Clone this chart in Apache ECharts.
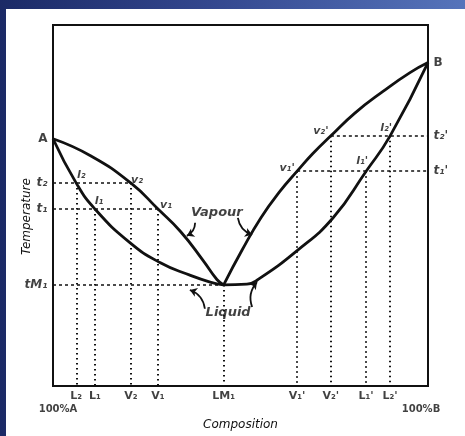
<!DOCTYPE html>
<html>
<head>
<meta charset="utf-8">
<script src="https://cdn.jsdelivr.net/npm/echarts@6/dist/echarts.min.js"></script>
<style>
  html, body { margin: 0; padding: 0; }
  #frame { position: relative; width: 465px; height: 436px; overflow: hidden;
    background: linear-gradient(90deg, #1b2a66 0%, #33478e 45%, #5674bb 100%); }
  #paper { position: absolute; left: 6px; top: 9px; right: 0; bottom: 0; background: #fff; }
  #chart { position: absolute; left: 0; top: 0; width: 465px; height: 436px; }
</style>
</head>
<body>
<div id="frame"><div id="paper"></div><div id="chart"></div></div>
<script>
// curves [composition, temperature]
const vapourLeft = [[0, 68.5], [10, 63.8], [20.8, 56.2], [28, 49], [34, 42.8], [40, 34.8], [43.7, 29.5], [45.5, 28]];
const liquidLeft = [[0, 68.5], [6.2, 56.2], [11.2, 49], [20.5, 39.7], [28.5, 34.2], [36.5, 30.7], [41.9, 28.8], [45.5, 28]];
const vapourRight = [[45.5, 28], [50.5, 37.8], [55.5, 46.7], [60.5, 53.9], [65.1, 59.5], [69.3, 64.4], [74.1, 69.3], [80.5, 75.6], [88, 81.6], [95.2, 86.8], [100, 89.6]];
const liquidRight = [[45.5, 28], [51.7, 28.2], [54.4, 29.3], [65.1, 37.5], [74.7, 46.6], [83.5, 59.5], [89.9, 69.3], [100, 89.6]];

// compositions read on the bottom
const compLabels = ["L₂", "L₁", "V₂", "V₁", "LM₁", "V₁'", "V₂'", "L₁'", "L₂'"];
const compX = [6.2, 11.2, 20.8, 28, 45.5, 65.1, 74.1, 83.5, 89.9];
const compTemp = [56.2, 49, 56.2, 49, 28, 59.5, 69.3, 59.5, 69.3];

// temperatures
const tLeftLabels = ["t₂", "t₁", "tM₁"];
const tLeft = [56.2, 49, 28];
const tLeftEnd = [20.8, 28, 45.5];
const tRightLabels = ["t₂'", "t₁'"];
const tRight = [69.3, 59.5];
const tRightStart = [74.1, 65.1];

// points on the curves
const pointLabels = ["l₂", "l₁", "v₂", "v₁", "v₁'", "v₂'", "l₁'", "l₂'"];
const pointX = [6.2, 11.2, 20.8, 28, 65.1, 74.1, 83.5, 89.9];
const pointT = [56.2, 49, 56.2, 49, 59.5, 69.3, 59.5, 69.3];
const pointOffset = [[5, -8], [4, -8], [6, -3], [8, -4], [-10, -3], [-10, -5], [-4, -10], [-4, -8]];

const ends = [["A", 0, 68.5], ["B", 100, 89.6]];
const notes = [["Vapour", 43.7, 47.9], ["Liquid", 46.7, 20.3]];
const arrows = [
  [[37.9, 45.2], [35.7, 41.6]],
  [[49.3, 46.6], [53.1, 41.9]],
  [[40.5, 21.4], [36.5, 26.6]],
  [[53.1, 21.9], [54.4, 28.8]],
];
const arrowBend = [0.3, -0.3, -0.3, 0.3];

const ink = "#111";
const chart = echarts.init(document.getElementById("chart"));

const curve = (data) => ({
  type: "line",
  data: data,
  smooth: 0.5,
  showSymbol: false,
  silent: true,
  lineStyle: { color: ink, width: 2.8 },
  z: 5,
});

const textPoint = (data, label) => ({
  type: "scatter",
  data: data,
  symbolSize: 1,
  itemStyle: { color: "transparent" },
  silent: true,
  label: Object.assign({ show: true, color: ink, fontFamily: "DejaVu Sans", fontWeight: "bold", fontSize: 11 }, label),
  z: 6,
});

const hGuides = tLeft.map((t, i) => ({ coords: [[0, t], [tLeftEnd[i], t]] }))
  .concat(tRight.map((t, i) => ({ coords: [[tRightStart[i], t], [100, t]] })));
const vGuides = compX.map((x, i) => ({ coords: [[x, compTemp[i]], [x, 0]] }));

chart.setOption({
  animation: false,
  grid: { left: 53, right: 37, top: 25, bottom: 46, show: true, borderColor: ink, borderWidth: 2, backgroundColor: "transparent" },
  xAxis: {
    type: "value", min: 0, max: 100,
    axisLine: { show: false }, axisTick: { show: false }, axisLabel: { show: false }, splitLine: { show: false },
    name: "Composition", nameLocation: "middle", nameGap: 33,
    nameTextStyle: { color: ink, fontFamily: "DejaVu Sans", fontStyle: "italic", fontSize: 12 },
  },
  yAxis: {
    type: "value", min: 0, max: 100,
    axisLine: { show: false }, axisTick: { show: false }, axisLabel: { show: false }, splitLine: { show: false },
    name: "Temperature", nameLocation: "middle", nameGap: 20, nameRotate: 90,
    nameTextStyle: { color: ink, fontFamily: "DejaVu Sans", fontStyle: "italic", fontSize: 12, padding: [0, 0, 0, -22] },
  },
  series: [
    curve(vapourLeft),
    curve(liquidLeft),
    curve(vapourRight),
    curve(liquidRight),
    {
      type: "lines", coordinateSystem: "cartesian2d", silent: true, data: hGuides,
      lineStyle: { color: ink, width: 1.5, type: [3, 3], opacity: 1 }, z: 3,
    },
    {
      type: "lines", coordinateSystem: "cartesian2d", silent: true, data: vGuides,
      lineStyle: { color: ink, width: 2, type: [1.5, 3.5], opacity: 1 }, z: 3,
    },
    {
      type: "lines", coordinateSystem: "cartesian2d", silent: true,
      data: arrows.map((a, i) => ({ coords: a, lineStyle: { curveness: arrowBend[i] } })),
      symbol: ["none", "arrow"], symbolSize: 7,
      lineStyle: { color: ink, width: 1.8, opacity: 1 }, z: 4,
    },
    textPoint(compX.map((x, i) => ({ value: [x, 0], name: compLabels[i] })),
      { position: "bottom", distance: 4, formatter: "{b}" }),
    textPoint(tLeft.map((t, i) => ({ value: [0, t], name: tLeftLabels[i] })),
      { position: "left", distance: 5, formatter: "{b}", fontStyle: "italic", fontSize: 12 }),
    textPoint(tRight.map((t, i) => ({ value: [100, t], name: tRightLabels[i] })),
      { position: "right", distance: 5, formatter: "{b}", fontStyle: "italic", fontSize: 12 }),
    textPoint(pointX.map((x, i) => ({
      value: [x, pointT[i]], name: pointLabels[i],
      label: { offset: pointOffset[i] },
    })), { position: "inside", formatter: "{b}", fontStyle: "italic", fontSize: 11 }),
    textPoint(ends.map((e) => ({ value: [e[1], e[2]], name: e[0] })).map((d, i) => Object.assign(d, {
      label: { position: i === 0 ? "left" : "right" },
    })), { distance: 5, formatter: "{b}", fontSize: 12 }),
    textPoint(notes.map((n) => ({ value: [n[1], n[2]], name: n[0] })),
      { position: "inside", formatter: "{b}", fontStyle: "italic", fontSize: 13 }),
    textPoint([
      { value: [0, 0], name: "100%A", label: { offset: [5, 0] } },
      { value: [100, 0], name: "100%B", label: { offset: [-7, 0] } },
    ], { position: "bottom", distance: 18, formatter: "{b}", fontSize: 10 }),
  ],
});
</script>
</body>
</html>
